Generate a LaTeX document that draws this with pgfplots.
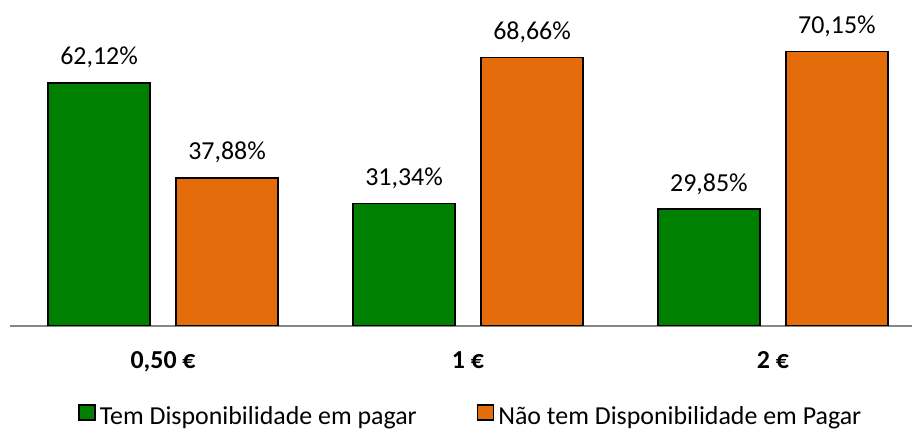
\documentclass[border=0pt]{standalone}
\usepackage{pgfplots}
\pgfplotsset{compat=1.18}
\usepackage{fontspec}
\setmainfont{Carlito}
\definecolor{cgreen}{RGB}{0,128,0}
\definecolor{corange}{RGB}{228,108,10}
\definecolor{caxis}{RGB}{134,134,134}
\begin{document}
\fontsize{13}{15.6}\selectfont
\begin{tikzpicture}
\useasboundingbox (0,0) rectangle (456bp,214.5bp);
\begin{axis}[
  at={(5bp,51.5bp)}, anchor=south west,
  scale only axis, width=451bp, height=163bp,
  xmin=-0.502, xmax=2.456, ymin=0, ymax=83.33,
  ybar=13bp, bar width=51bp,
  axis y line=none,
  axis x line*=bottom,
  x axis line style={draw=caxis, line width=1bp},
  xtick={0,1,2},
  xticklabels={{0,50 €},{1 €},{2 €}},
  xtick style={draw=none},
  xticklabel style={anchor=base, yshift=-17bp, font=\fontsize{13}{15.6}\selectfont\bfseries},
  nodes near coords,
  point meta=explicit symbolic,
  nodes near coords style={anchor=base, inner sep=0pt, yshift=9bp, font=\fontsize{13}{15.6}\selectfont, text=black},
  legend columns=2,
  legend style={draw=none, fill=none, at={(0.512,-0.279)}, anchor=center,
    font=\fontsize{13}{15.6}\selectfont, inner sep=0pt,
    /tikz/every even column/.append style={column sep=28bp}},
  legend image code/.code={\draw[#1, line width=0.75bp] (0bp,-1.5bp) rectangle (8bp,6bp);},
]
\addplot[fill=cgreen, draw=black, line width=0.75bp] table[meta=label] {
x y label
0 62.12 62,12\%
1 31.34 31,34\%
2 29.85 29,85\%
};
\addlegendentry{Tem Disponibilidade em pagar}
\addplot[fill=corange, draw=black, line width=0.75bp] table[meta=label] {
x y label
0 37.88 37,88\%
1 68.66 68,66\%
2 70.15 70,15\%
};
\addlegendentry{Não tem Disponibilidade em Pagar}
\end{axis}
\end{tikzpicture}
\end{document}
